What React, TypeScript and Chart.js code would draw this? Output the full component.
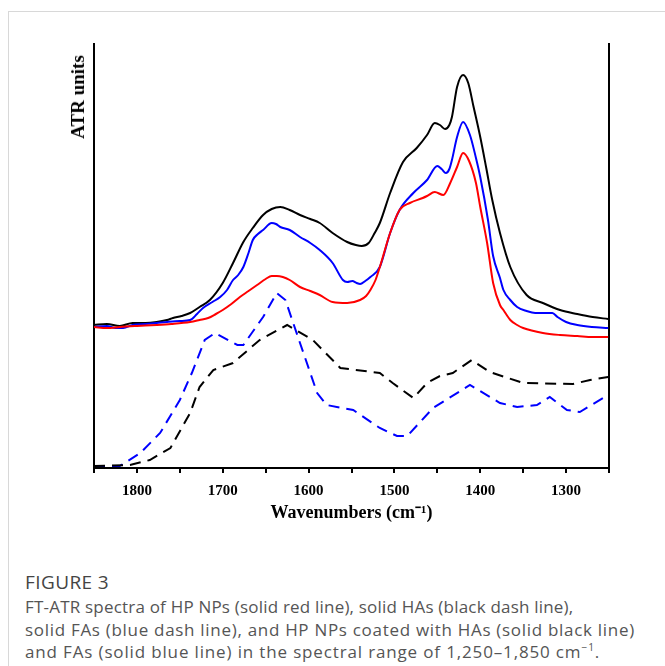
import React, { useEffect, useRef } from "react";
import { Chart, registerables } from "chart.js";

Chart.register(...registerables);

// HP NPs (solid red)
const hpWn = [1850, 1835, 1820, 1800, 1777, 1760, 1738, 1727, 1717, 1708, 1700, 1690, 1680, 1670, 1660, 1650, 1643, 1637, 1630, 1622, 1610, 1598, 1587, 1572, 1555, 1540, 1533, 1528, 1522, 1517, 1505, 1494, 1482, 1467, 1462, 1453, 1443, 1435, 1427, 1420, 1413, 1405, 1400, 1392, 1385, 1377, 1373, 1365, 1357, 1350, 1327, 1307, 1287, 1269, 1251];
const hpAbs = [141, 140, 141, 142, 143, 144, 146, 148, 150, 154, 158, 164, 171, 177, 183, 189, 192, 192, 191, 188, 181, 177, 173, 166, 165, 168, 172, 178, 188, 201, 235, 258, 265, 270, 272, 276, 273, 285, 301, 315, 307, 285, 261, 225, 185, 163, 158, 148, 143, 140, 135, 133, 132, 131, 131];

// HP NPs coated with HAs (solid black)
const hpHaWn = [1850, 1835, 1820, 1805, 1790, 1777, 1765, 1758, 1748, 1738, 1727, 1715, 1700, 1688, 1676, 1665, 1653, 1643, 1633, 1622, 1610, 1598, 1587, 1572, 1555, 1545, 1538, 1530, 1523, 1517, 1505, 1490, 1474, 1462, 1453, 1447, 1441, 1436, 1433, 1427, 1420, 1414, 1408, 1400, 1393, 1386, 1377, 1365, 1346, 1327, 1307, 1287, 1269, 1251];
const hpHaAbs = [143, 144, 142, 145, 145, 146, 148, 150, 152, 155, 161, 168, 185, 205, 226, 240, 253, 259, 261, 258, 253, 249, 245, 235, 226, 223, 222, 225, 235, 245, 275, 306, 320, 333, 345, 343, 339, 343, 351, 381, 393, 385, 362, 331, 300, 268, 235, 201, 173, 165, 158, 154, 151, 149];

// HP NPs coated with FAs (solid blue)
const hpFaWn = [1850, 1835, 1825, 1816, 1805, 1790, 1777, 1765, 1750, 1738, 1730, 1723, 1712, 1703, 1695, 1688, 1682, 1676, 1670, 1665, 1659, 1653, 1643, 1638, 1633, 1622, 1610, 1598, 1587, 1572, 1560, 1555, 1549, 1544, 1540, 1534, 1528, 1517, 1505, 1494, 1478, 1462, 1450, 1445, 1440, 1436, 1433, 1427, 1420, 1412, 1405, 1400, 1391, 1385, 1377, 1373, 1365, 1357, 1346, 1336, 1325, 1316, 1310, 1300, 1287, 1270, 1251];
const hpFaAbs = [141, 142, 140, 140, 143, 144, 145, 146, 147, 148, 154, 160, 166, 171, 178, 188, 193, 201, 215, 228, 234, 238, 245, 244, 241, 238, 231, 225, 218, 205, 188, 186, 187, 185, 184, 187, 191, 201, 235, 258, 275, 288, 302, 299, 295, 299, 308, 331, 346, 333, 310, 291, 248, 212, 190, 178, 168, 161, 157, 155, 155, 155, 151, 146, 143, 141, 140];

// solid HAs (black dash)
const haWn = [1850, 1808, 1785, 1761, 1738, 1727, 1711, 1688, 1657, 1625, 1595, 1563, 1517, 1502, 1478, 1462, 1447, 1432, 1410, 1389, 1350, 1292, 1272, 1251];
const haAbs = [2, 3, 8, 20, 55, 81, 98, 105, 128, 143, 128, 100, 95, 85, 70, 85, 92, 95, 108, 96, 85, 84, 88, 91];

// solid FAs (blue dash)
const faWn = [1850, 1820, 1796, 1773, 1750, 1736, 1721, 1709, 1683, 1676, 1653, 1637, 1627, 1610, 1590, 1579, 1548, 1517, 1497, 1485, 1455, 1412, 1377, 1357, 1334, 1319, 1299, 1284, 1251];
const faAbs = [2, 2, 15, 35, 68, 95, 128, 135, 123, 123, 151, 175, 168, 125, 75, 63, 58, 40, 32, 32, 60, 83, 65, 61, 63, 71, 58, 56, 73];

const xTicks = [1850, 1800, 1750, 1700, 1650, 1600, 1550, 1500, 1450, 1400, 1350, 1300, 1250];

const pts = (xs: number[], ys: number[]) => xs.map((x, i) => ({ x, y: ys[i] }));

export default function App() {
  const ref = useRef<HTMLCanvasElement | null>(null);

  useEffect(() => {
    if (!ref.current) return;
    const solid = (label: string, color: string, xs: number[], ys: number[]) => ({
      label,
      data: pts(xs, ys),
      borderColor: color,
      backgroundColor: color,
      borderWidth: 2,
      pointRadius: 0,
      cubicInterpolationMode: "monotone" as const,
      fill: false,
    });
    const dashed = (label: string, color: string, xs: number[], ys: number[]) => ({
      label,
      data: pts(xs, ys),
      borderColor: color,
      backgroundColor: color,
      borderWidth: 2,
      borderDash: [11, 7],
      pointRadius: 0,
      tension: 0,
      fill: false,
    });
    const chart = new Chart(ref.current, {
      type: "line",
      data: {
        datasets: [
          dashed("solid HAs", "#000000", haWn, haAbs),
          dashed("solid FAs", "#0000ff", faWn, faAbs),
          solid("HP NPs", "#ff0000", hpWn, hpAbs),
          solid("HP NPs + FAs", "#0000ff", hpFaWn, hpFaAbs),
          solid("HP NPs + HAs", "#000000", hpHaWn, hpHaAbs),
        ],
      },
      options: {
        responsive: false,
        animation: false,
        events: [],
        layout: { padding: { left: 94, right: 56, top: 44, bottom: 16 } },
        plugins: { legend: { display: false }, tooltip: { enabled: false } },
        scales: {
          x: {
            type: "linear",
            min: 1250,
            max: 1850,
            reverse: true,
            afterBuildTicks: (s: any) => {
              s.ticks = xTicks.map((v) => ({ value: v }));
            },
            afterFit: (s: any) => {
              s.height = 56;
            },
            ticks: {
              autoSkip: false,
              maxRotation: 0,
              padding: 9,
              color: "#000",
              font: { family: "'Liberation Serif', 'Times New Roman', serif", size: 15, weight: "bold" },
              callback: (v: any) => (Number(v) % 100 === 0 ? String(v) : ""),
            },
            grid: { display: true, drawOnChartArea: false, drawTicks: true, tickLength: 5, color: "#000", lineWidth: 2 },
            border: { display: true, color: "#000", width: 2 },
            title: {
              display: true,
              text: "Wavenumbers (cm⁻¹)",
              color: "#000",
              padding: { top: 0, bottom: 0 },
              font: { family: "'Liberation Serif', 'Times New Roman', serif", size: 18, weight: "bold" },
            },
          },
          y: {
            type: "linear",
            position: "left",
            min: 0,
            max: 424,
            ticks: { display: false },
            grid: { display: false, drawTicks: false },
            border: { display: true, color: "#000", width: 2 },
            afterFit: (s: any) => {
              s.width = 0;
            },
          },
          y2: {
            type: "linear",
            position: "right",
            min: 0,
            max: 424,
            ticks: { display: false },
            grid: { display: false, drawTicks: false },
            border: { display: true, color: "#000", width: 2 },
            afterFit: (s: any) => {
              s.width = 0;
            },
          },
        },
      },
    });
    return () => chart.destroy();
  }, []);

  const cap: React.CSSProperties = {
    position: "absolute",
    left: 25,
    fontFamily: "'Open Sans', sans-serif",
    fontSize: 17,
    color: "#555",
    whiteSpace: "nowrap",
    lineHeight: "22px",
  };

  return (
    <div>
      <div
        style={{
          position: "absolute",
          left: 8,
          top: 11,
          right: 0,
          bottom: 0,
          height: 655,
          borderLeft: "1px solid #d8d8d8",
          borderTop: "1px solid #d8d8d8",
          boxSizing: "border-box",
        }}
      />
      <canvas ref={ref} width={665} height={540} style={{ position: "absolute", left: 0, top: 0, width: 665, height: 540 }} />
      <div
        style={{
          position: "absolute",
          left: 78,
          top: 97,
          transform: "translate(-50%, -50%) rotate(-90deg)",
          fontFamily: "'Liberation Serif', 'Times New Roman', serif",
          fontWeight: "bold",
          fontSize: 19,
          color: "#000",
          whiteSpace: "nowrap",
          lineHeight: "22px",
        }}
      >
        ATR units
      </div>
      <div style={{ ...cap, top: 571, fontSize: 19, color: "#444", letterSpacing: 0.4 }}>FIGURE 3</div>
      <div style={{ ...cap, top: 596, letterSpacing: 0.2 }}>FT-ATR spectra of HP NPs (solid red line), solid HAs (black dash line),</div>
      <div style={{ ...cap, top: 619, letterSpacing: 0.7 }}>solid FAs (blue dash line), and HP NPs coated with HAs (solid black line)</div>
      <div style={{ ...cap, top: 641, letterSpacing: 0.85 }}>
        and FAs (solid blue line) in the spectral range of 1,250–1,850 cm<sup style={{ fontSize: "0.6em", lineHeight: 0 }}>−1</sup>.
      </div>
    </div>
  );
}
